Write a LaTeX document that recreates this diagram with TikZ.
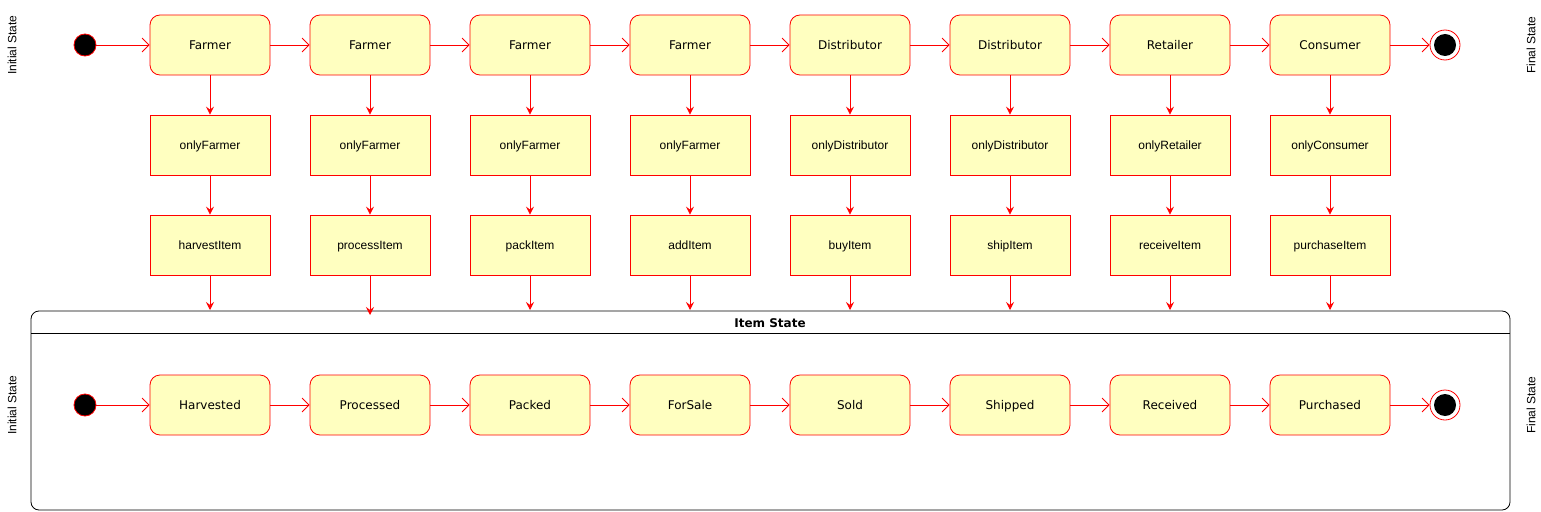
\documentclass[tikz,border=0pt]{standalone}
\usepackage{fontspec}
\setmainfont{Liberation Sans}
\newfontfamily\vfont{DejaVu Sans}
\usetikzlibrary{arrows.meta}
\definecolor{stfill}{HTML}{FFFFC0}
\definecolor{stred}{HTML}{FF0000}
\tikzset{
  state/.style={draw=stred, fill=stfill, rounded corners=10pt, minimum width=120pt, minimum height=60pt, inner sep=0pt, font=\vfont\fontsize{12}{14}\selectfont, text height=10.5pt, text depth=2pt, line width=0.8pt},
  action/.style={draw=stred, fill=stfill, minimum width=120pt, minimum height=60pt, inner sep=0pt, font=\fontsize{12}{14}\selectfont, text height=10.5pt, text depth=2pt, line width=0.8pt},
  initst/.style={circle, draw=stred, fill=black, minimum size=22pt, inner sep=0pt, line width=0.8pt},
  finalst/.style={circle, draw=stred, fill=white, minimum size=30pt, inner sep=0pt, line width=0.8pt, path picture={\fill[black] (path picture bounding box.center) circle (11pt);}},
  harr/.style={draw=stred, line width=0.8pt, -{Straight Barb[length=7pt, width=14pt, line width=0.8pt]}},
  varr/.style={draw=stred, line width=0.8pt, -{Stealth[length=8pt, width=8pt, inset=3pt]}},
  sidelabel/.style={rotate=90, font=\fontsize{12}{14}\selectfont},
}
\begin{document}
\begin{tikzpicture}[x=1pt, y=-1pt]
\useasboundingbox (0,0) rectangle (1541,511);
% container
\draw[black, line width=0.8pt, rounded corners=8pt] (31,311) rectangle (1510,510);
\draw[black, line width=0.8pt] (31,333) -- (1510,333);
\node[font=\vfont\fontsize{12}{14}\selectfont\bfseries] (itemstate) at (770,323) {Item State};
% side labels
\node[sidelabel] (il1) at (12,45) {Initial State};
\node[sidelabel] (il2) at (12,405) {Initial State};
\node[sidelabel] (fl1) at (1531,45) {Final State};
\node[sidelabel] (fl2) at (1531,405) {Final State};
% top row
\node[initst] (i1) at (85,45) {};
\node[finalst] (f1) at (1445,45) {};
\foreach \n/\x/\a/\b/\c in {1/210/Farmer/onlyFarmer/harvestItem, 2/370/Farmer/onlyFarmer/processItem, 3/530/Farmer/onlyFarmer/packItem, 4/690/Farmer/onlyFarmer/addItem, 5/850/Distributor/onlyDistributor/buyItem, 6/1010/Distributor/onlyDistributor/shipItem, 7/1170/Retailer/onlyRetailer/receiveItem, 8/1330/Consumer/onlyConsumer/purchaseItem}{
  \node[state] (t\n) at (\x,45) {\a};
  \node[action] (m\n) at (\x,145) {\b};
  \node[action] (b\n) at (\x,245) {\c};
  \coordinate (e\n) at (\x,310);
  \draw[varr] (t\n) -- (m\n);
  \draw[varr] (m\n) -- (b\n);
}
\coordinate (e2) at (370,315);
\foreach \n in {1,...,8}{\draw[varr] (b\n) -- (e\n);}
\draw[harr] (i1) -- (t1);
\foreach \a/\b in {1/2,2/3,3/4,4/5,5/6,6/7,7/8}{\draw[harr] (t\a) -- (t\b);}
\draw[harr] (t8) -- (f1);
% bottom row
\node[initst] (i2) at (85,405) {};
\node[finalst] (f2) at (1445,405) {};
\foreach \n/\x/\a in {1/210/Harvested, 2/370/Processed, 3/530/Packed, 4/690/ForSale, 5/850/Sold, 6/1010/Shipped, 7/1170/Received, 8/1330/Purchased}{
  \node[state] (s\n) at (\x,405) {\a};
}
\draw[harr] (i2) -- (s1);
\foreach \a/\b in {1/2,2/3,3/4,4/5,5/6,6/7,7/8}{\draw[harr] (s\a) -- (s\b);}
\draw[harr] (s8) -- (f2);
\end{tikzpicture}
\end{document}
